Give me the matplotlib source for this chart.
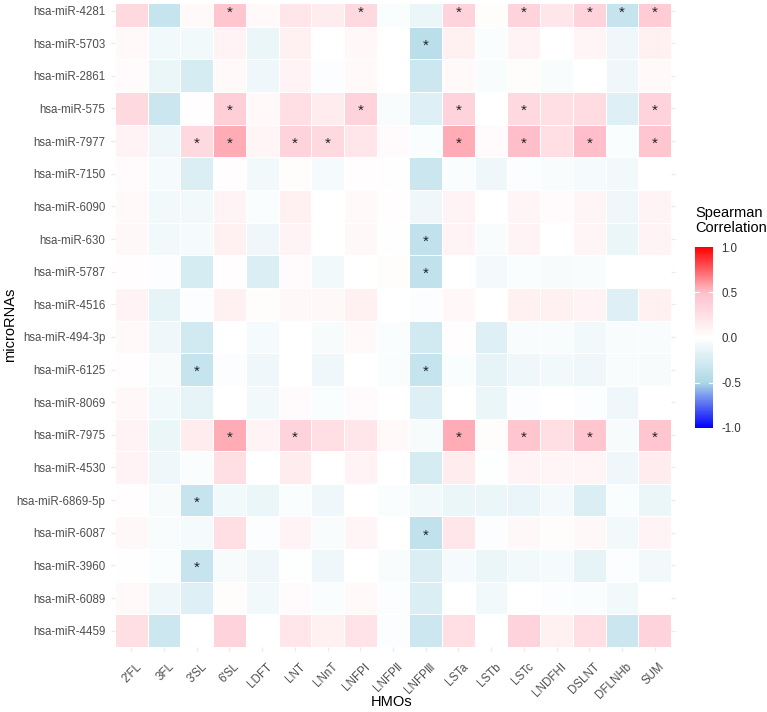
import matplotlib
matplotlib.use("Agg")
from matplotlib import pyplot as plt
from matplotlib.colors import LinearSegmentedColormap
import matplotlib.transforms as mtransforms
import numpy as np

plt.rcParams['font.family'] = ['Liberation Sans', 'DejaVu Sans']

mirnas = ["hsa-miR-4281", "hsa-miR-5703", "hsa-miR-2861", "hsa-miR-575", "hsa-miR-7977",
          "hsa-miR-7150", "hsa-miR-6090", "hsa-miR-630", "hsa-miR-5787", "hsa-miR-4516",
          "hsa-miR-494-3p", "hsa-miR-6125", "hsa-miR-8069", "hsa-miR-7975", "hsa-miR-4530",
          "hsa-miR-6869-5p", "hsa-miR-6087", "hsa-miR-3960", "hsa-miR-6089", "hsa-miR-4459"]

hmos = ["2'FL", "3FL", "3'SL", "6'SL", "LDFT", "LNT", "LNnT", "LNFP\u2160", "LNFP\u2161", "LNFP\u2162",
        "LSTa", "LSTb", "LSTc", "LNDFH\u2160", "DSLNT", "DFLNHb", "SUM"]

# Spearman correlation, one row per microRNA (columns in hmos order)
corr = [
    [0.30, -0.35, 0.05, 0.45, 0.05, 0.20, 0.15, 0.30, -0.03, -0.12, 0.35, 0.03, 0.35, 0.20, 0.35, -0.35, 0.40],
    [0.05, -0.08, -0.08, 0.10, -0.12, 0.12, 0.00, 0.07, 0.00, -0.42, 0.12, -0.03, 0.10, 0.00, 0.08, -0.10, 0.12],
    [0.04, -0.12, -0.25, 0.05, -0.10, 0.10, -0.02, 0.05, 0.00, -0.30, 0.05, -0.04, 0.03, -0.04, 0.00, -0.10, 0.05],
    [0.30, -0.32, 0.02, 0.38, 0.05, 0.25, 0.15, 0.35, -0.04, -0.20, 0.35, 0.00, 0.30, 0.25, 0.28, -0.20, 0.35],
    [0.10, -0.10, 0.30, 0.55, 0.08, 0.35, 0.30, 0.20, 0.04, -0.03, 0.55, 0.04, 0.50, 0.25, 0.50, -0.03, 0.45],
    [0.04, -0.06, -0.22, 0.02, -0.08, 0.03, -0.06, 0.02, 0.01, -0.32, -0.03, -0.10, -0.02, -0.04, -0.06, -0.08, 0.00],
    [0.05, -0.08, -0.08, 0.10, -0.03, 0.12, 0.00, 0.05, 0.02, -0.10, 0.10, 0.00, 0.08, 0.04, 0.08, -0.10, 0.10],
    [0.06, -0.08, -0.06, 0.12, -0.10, 0.10, 0.00, 0.06, 0.01, -0.38, 0.10, -0.04, 0.10, 0.00, 0.08, -0.12, 0.10],
    [0.02, -0.02, -0.25, 0.02, -0.22, 0.04, -0.08, 0.00, 0.03, -0.38, 0.00, -0.07, -0.03, -0.05, -0.04, 0.00, 0.00],
    [0.10, -0.15, -0.02, 0.12, 0.03, 0.06, 0.06, 0.12, 0.00, -0.02, 0.07, 0.00, 0.12, 0.12, 0.10, -0.20, 0.12],
    [0.05, -0.10, -0.28, 0.00, -0.06, 0.00, -0.05, 0.05, -0.03, -0.28, 0.02, -0.20, -0.04, -0.04, -0.08, -0.04, -0.04],
    [0.02, -0.05, -0.35, -0.02, -0.10, 0.00, -0.10, 0.00, -0.03, -0.35, -0.03, -0.15, -0.10, -0.08, -0.10, -0.04, -0.05],
    [0.07, -0.08, -0.15, 0.00, -0.08, 0.04, -0.03, 0.04, 0.00, -0.20, 0.00, -0.12, -0.02, 0.00, -0.02, -0.10, 0.00],
    [0.10, -0.12, 0.15, 0.55, 0.10, 0.35, 0.25, 0.20, 0.05, -0.05, 0.55, 0.03, 0.45, 0.25, 0.45, -0.05, 0.45],
    [0.10, -0.10, -0.03, 0.25, 0.00, 0.15, 0.00, 0.10, 0.00, -0.25, 0.15, -0.01, 0.10, 0.08, 0.08, -0.10, 0.15],
    [0.02, -0.05, -0.35, -0.08, -0.12, -0.03, -0.10, 0.00, -0.03, -0.08, -0.12, -0.12, -0.13, -0.07, -0.22, -0.03, -0.12],
    [0.06, -0.04, -0.06, 0.25, -0.02, 0.10, -0.04, 0.08, 0.00, -0.38, 0.20, -0.02, 0.06, 0.03, 0.06, -0.08, 0.10],
    [0.01, -0.03, -0.35, -0.05, -0.10, -0.01, -0.10, 0.00, -0.04, -0.22, -0.06, -0.12, -0.08, -0.06, -0.15, -0.02, -0.08],
    [0.05, -0.10, -0.20, 0.03, -0.08, 0.04, -0.03, 0.05, -0.02, -0.22, 0.00, -0.08, 0.00, -0.02, -0.03, -0.08, 0.00],
    [0.25, -0.30, 0.00, 0.35, 0.00, 0.20, 0.12, 0.22, -0.02, -0.30, 0.25, 0.00, 0.35, 0.12, 0.25, -0.32, 0.35],
]

# significant pairs (marked with *), given as column indices into hmos
significant = {
    "hsa-miR-4281": [3, 7, 10, 12, 14, 15, 16],
    "hsa-miR-5703": [9],
    "hsa-miR-575": [3, 7, 10, 12, 16],
    "hsa-miR-7977": [2, 3, 5, 6, 10, 12, 14, 16],
    "hsa-miR-630": [9],
    "hsa-miR-5787": [9],
    "hsa-miR-6125": [2, 9],
    "hsa-miR-7975": [3, 5, 10, 12, 14, 16],
    "hsa-miR-6869-5p": [2],
    "hsa-miR-6087": [9],
    "hsa-miR-3960": [2],
}

W, H = 767, 712
fig = plt.figure(figsize=(W / 100, H / 100), dpi=100)

# panel in pixel coordinates
left, right, top, bottom = 115, 671, 4, 647
ax = fig.add_axes([left / W, 1 - bottom / H, (right - left) / W, (bottom - top) / H])

cmap = LinearSegmentedColormap.from_list(
    "spearman", [(0, "blue"), (0.25, "lightblue"), (0.5, "white"), (0.75, "pink"), (1, "red")])

data = np.array(corr)
mesh = ax.pcolormesh(np.arange(len(hmos) + 1) - 0.5, np.arange(len(mirnas) + 1) - 0.5, data,
                     cmap=cmap, vmin=-1, vmax=1, edgecolors="white", linewidth=0.4)

for name, cols in significant.items():
    i = mirnas.index(name)
    for j in cols:
        ax.text(j, i + 0.08, "*", ha="center", va="center", fontsize=11, color="#222222",
                clip_on=False)

# top row is partly cut off in the original
ax.set_xlim(-0.5, len(hmos) - 0.5)
ax.set_ylim(len(mirnas) - 0.5, -0.5 + 0.3)

ax.set_xticks(np.arange(len(hmos)))
ax.set_xticklabels(hmos, rotation=45, ha="right", va="top", rotation_mode="anchor")
ax.set_yticks(np.arange(len(mirnas)))
ax.set_yticklabels(mirnas)
ax.tick_params(axis="both", length=3, width=1, color="#ebebeb", labelsize=8.3, labelcolor="#4d4d4d")
ax.tick_params(axis="y", right=True, pad=4)
ax.tick_params(axis="x", pad=7)
shift = mtransforms.ScaledTranslation(0.04, 0, fig.dpi_scale_trans)
for lab in ax.get_xticklabels():
    lab.set_transform(lab.get_transform() + shift)

for spine in ax.spines.values():
    spine.set_visible(False)

fig.text(392 / W, 1 - 702 / H, "HMOs", ha="center", va="center", fontsize=10.5)
fig.text(10 / W, 1 - 325 / H, "microRNAs", ha="center", va="center", rotation=90, fontsize=10.5)

# colorbar (legend)
cb_l, cb_r, cb_t, cb_b = 695, 713, 247, 428
cax = fig.add_axes([cb_l / W, 1 - cb_b / H, (cb_r - cb_l) / W, (cb_b - cb_t) / H])
cbar = fig.colorbar(mesh, cax=cax, ticks=[-1, -0.5, 0, 0.5, 1])
cbar.outline.set_visible(False)
cbar.ax.set_yticklabels(["-1.0", "-0.5", "0.0", "0.5", "1.0"])
cbar.ax.tick_params(length=0, labelsize=8.3, labelcolor="#333333", pad=6)
for v in [-0.5, 0, 0.5]:
    cax.plot([-0.05, 0.2], [v, v], color="white", lw=0.8, transform=cax.get_yaxis_transform())
    cax.plot([0.8, 1.05], [v, v], color="white", lw=0.8, transform=cax.get_yaxis_transform())
fig.text(cb_l / W, 1 - 206 / H, "Spearman\nCorrelation", ha="left", va="top", fontsize=10.5,
         linespacing=1.05)

fig.savefig("out.png", dpi=100)
